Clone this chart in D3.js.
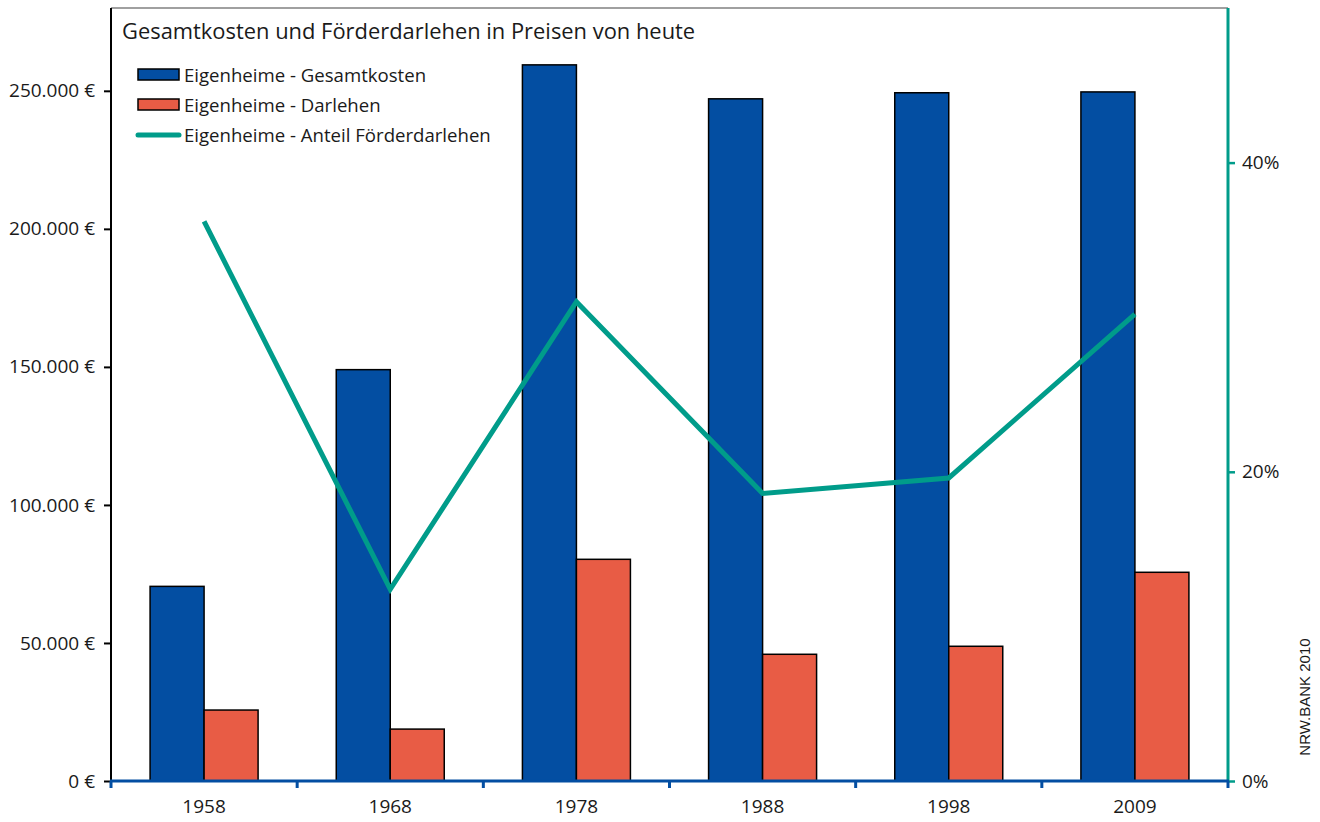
<!DOCTYPE html>
<html><head><meta charset="utf-8">
<script src="https://cdn.jsdelivr.net/npm/d3@7"></script>
<style>body{margin:0;background:#fff}svg{display:block}text{font-family:"Open Sans","Noto Sans",sans-serif}</style>
</head><body><svg id="c" width="1320" height="822"></svg>
<script>
const years = ["1958","1968","1978","1988","1998","2009"];
const gesamtkosten = [70500, 149000, 259400, 247100, 249300, 249600];
const darlehen = [25700, 18800, 80300, 45900, 48800, 75600];
const anteil = [36.2, 12.4, 31.0, 18.6, 19.6, 30.2];
const leftTicks = [0, 50000, 100000, 150000, 200000, 250000];
const rightTicks = [0, 20, 40];
const seriesNames = ["Eigenheime - Gesamtkosten", "Eigenheime - Darlehen", "Eigenheime - Anteil Förderdarlehen"];
const title = "Gesamtkosten und Förderdarlehen in Preisen von heute";

const BLUE = "#034EA2", RED = "#E85C45", TEAL = "#009C8A";
const svg = d3.select("#c");
const L = 111, R = 1228, T = 8, B = 781;

const x = d3.scaleBand().domain(years).range([L, R]);
const y = d3.scaleLinear().domain([0, 280000]).range([B, T]);
const y2 = d3.scaleLinear().domain([0, 50]).range([B, T]);
const bw = 54;
const fmt = v => d3.format(",")(v).replace(/,/g, ".") + " €";

// top border
svg.append("line").attr("x1", L).attr("x2", R).attr("y1", T).attr("y2", T).attr("stroke", "#808080").attr("stroke-width", 1.5);

// bars
const g = svg.append("g");
years.forEach((yr, i) => {
  const cx = x(yr) + x.bandwidth() / 2;
  g.append("rect").attr("x", cx - bw).attr("y", y(gesamtkosten[i])).attr("width", bw).attr("height", B - y(gesamtkosten[i]))
    .attr("fill", BLUE).attr("stroke", "#000").attr("stroke-width", 1.5);
  g.append("rect").attr("x", cx).attr("y", y(darlehen[i])).attr("width", bw).attr("height", B - y(darlehen[i]))
    .attr("fill", RED).attr("stroke", "#000").attr("stroke-width", 1.5);
});

// left axis
const la = svg.append("g").attr("transform", `translate(${L},0)`)
  .call(d3.axisLeft(y).tickValues(leftTicks).tickFormat(fmt).tickSize(7).tickPadding(9));
la.select(".domain").remove();
la.selectAll(".tick line").attr("stroke", "#000").attr("stroke-width", 2);
la.selectAll("text").attr("font-size", 19).attr("fill", "#1a1a1a");
svg.append("line").attr("x1", L).attr("x2", L).attr("y1", T).attr("y2", B).attr("stroke", "#000").attr("stroke-width", 2);

// right axis
const ra = svg.append("g").attr("transform", `translate(${R},0)`)
  .call(d3.axisRight(y2).tickValues(rightTicks).tickFormat(d => d + "%").tickSize(7).tickPadding(7));
ra.select(".domain").remove();
ra.selectAll(".tick line").attr("stroke", TEAL).attr("stroke-width", 2.5);
ra.selectAll("text").attr("font-size", 19).attr("fill", "#1a1a1a");
svg.append("line").attr("x1", R).attr("x2", R).attr("y1", T).attr("y2", B + 1).attr("stroke", TEAL).attr("stroke-width", 3);

// bottom axis
const edges = years.map(d => x(d)).concat([R]);
const ba = svg.append("g").attr("transform", `translate(0,${B})`)
  .call(d3.axisBottom(x).tickSize(0).tickPadding(19));
ba.select(".domain").remove();
ba.selectAll("text").attr("font-size", 19).attr("fill", "#1a1a1a");
svg.append("g").selectAll("line").data(edges).join("line")
  .attr("x1", d => d).attr("x2", d => d).attr("y1", B).attr("y2", B + 7).attr("stroke", BLUE).attr("stroke-width", 3);
svg.append("line").attr("x1", L - 1).attr("x2", R + 1).attr("y1", B).attr("y2", B).attr("stroke", BLUE).attr("stroke-width", 3);

// line
const line = d3.line().x((d, i) => x(years[i]) + x.bandwidth() / 2).y(d => y2(d));
svg.append("path").datum(anteil).attr("d", line).attr("fill", "none").attr("stroke", TEAL).attr("stroke-width", 5).attr("stroke-linejoin", "miter");

// title
svg.append("text").attr("x", 122).attr("y", 39).attr("font-size", 21.9).attr("fill", "#1a1a1a").text(title);

// legend
const lg = svg.append("g");
[0, 1].forEach(i => {
  lg.append("rect").attr("x", 138).attr("y", 69 + i * 30).attr("width", 41).attr("height", 11)
    .attr("fill", i === 0 ? BLUE : RED).attr("stroke", "#000").attr("stroke-width", 1.5);
});
lg.append("line").attr("x1", 138).attr("x2", 179).attr("y1", 135).attr("y2", 135).attr("stroke", TEAL).attr("stroke-width", 5).attr("stroke-linecap", "round");
seriesNames.forEach((s, i) => {
  lg.append("text").attr("x", 184).attr("y", 75 + i * 30).attr("dy", "0.35em").attr("font-size", 18.6).attr("fill", "#1a1a1a").text(s);
});

// source
svg.append("text").attr("transform", "translate(1310,697) rotate(-90)").attr("text-anchor", "middle")
  .style("font-family", "Liberation Sans, Arial, sans-serif")
  .attr("font-size", 15).attr("fill", "#1a1a1a").text("NRW.BANK 2010");
</script></body></html>
